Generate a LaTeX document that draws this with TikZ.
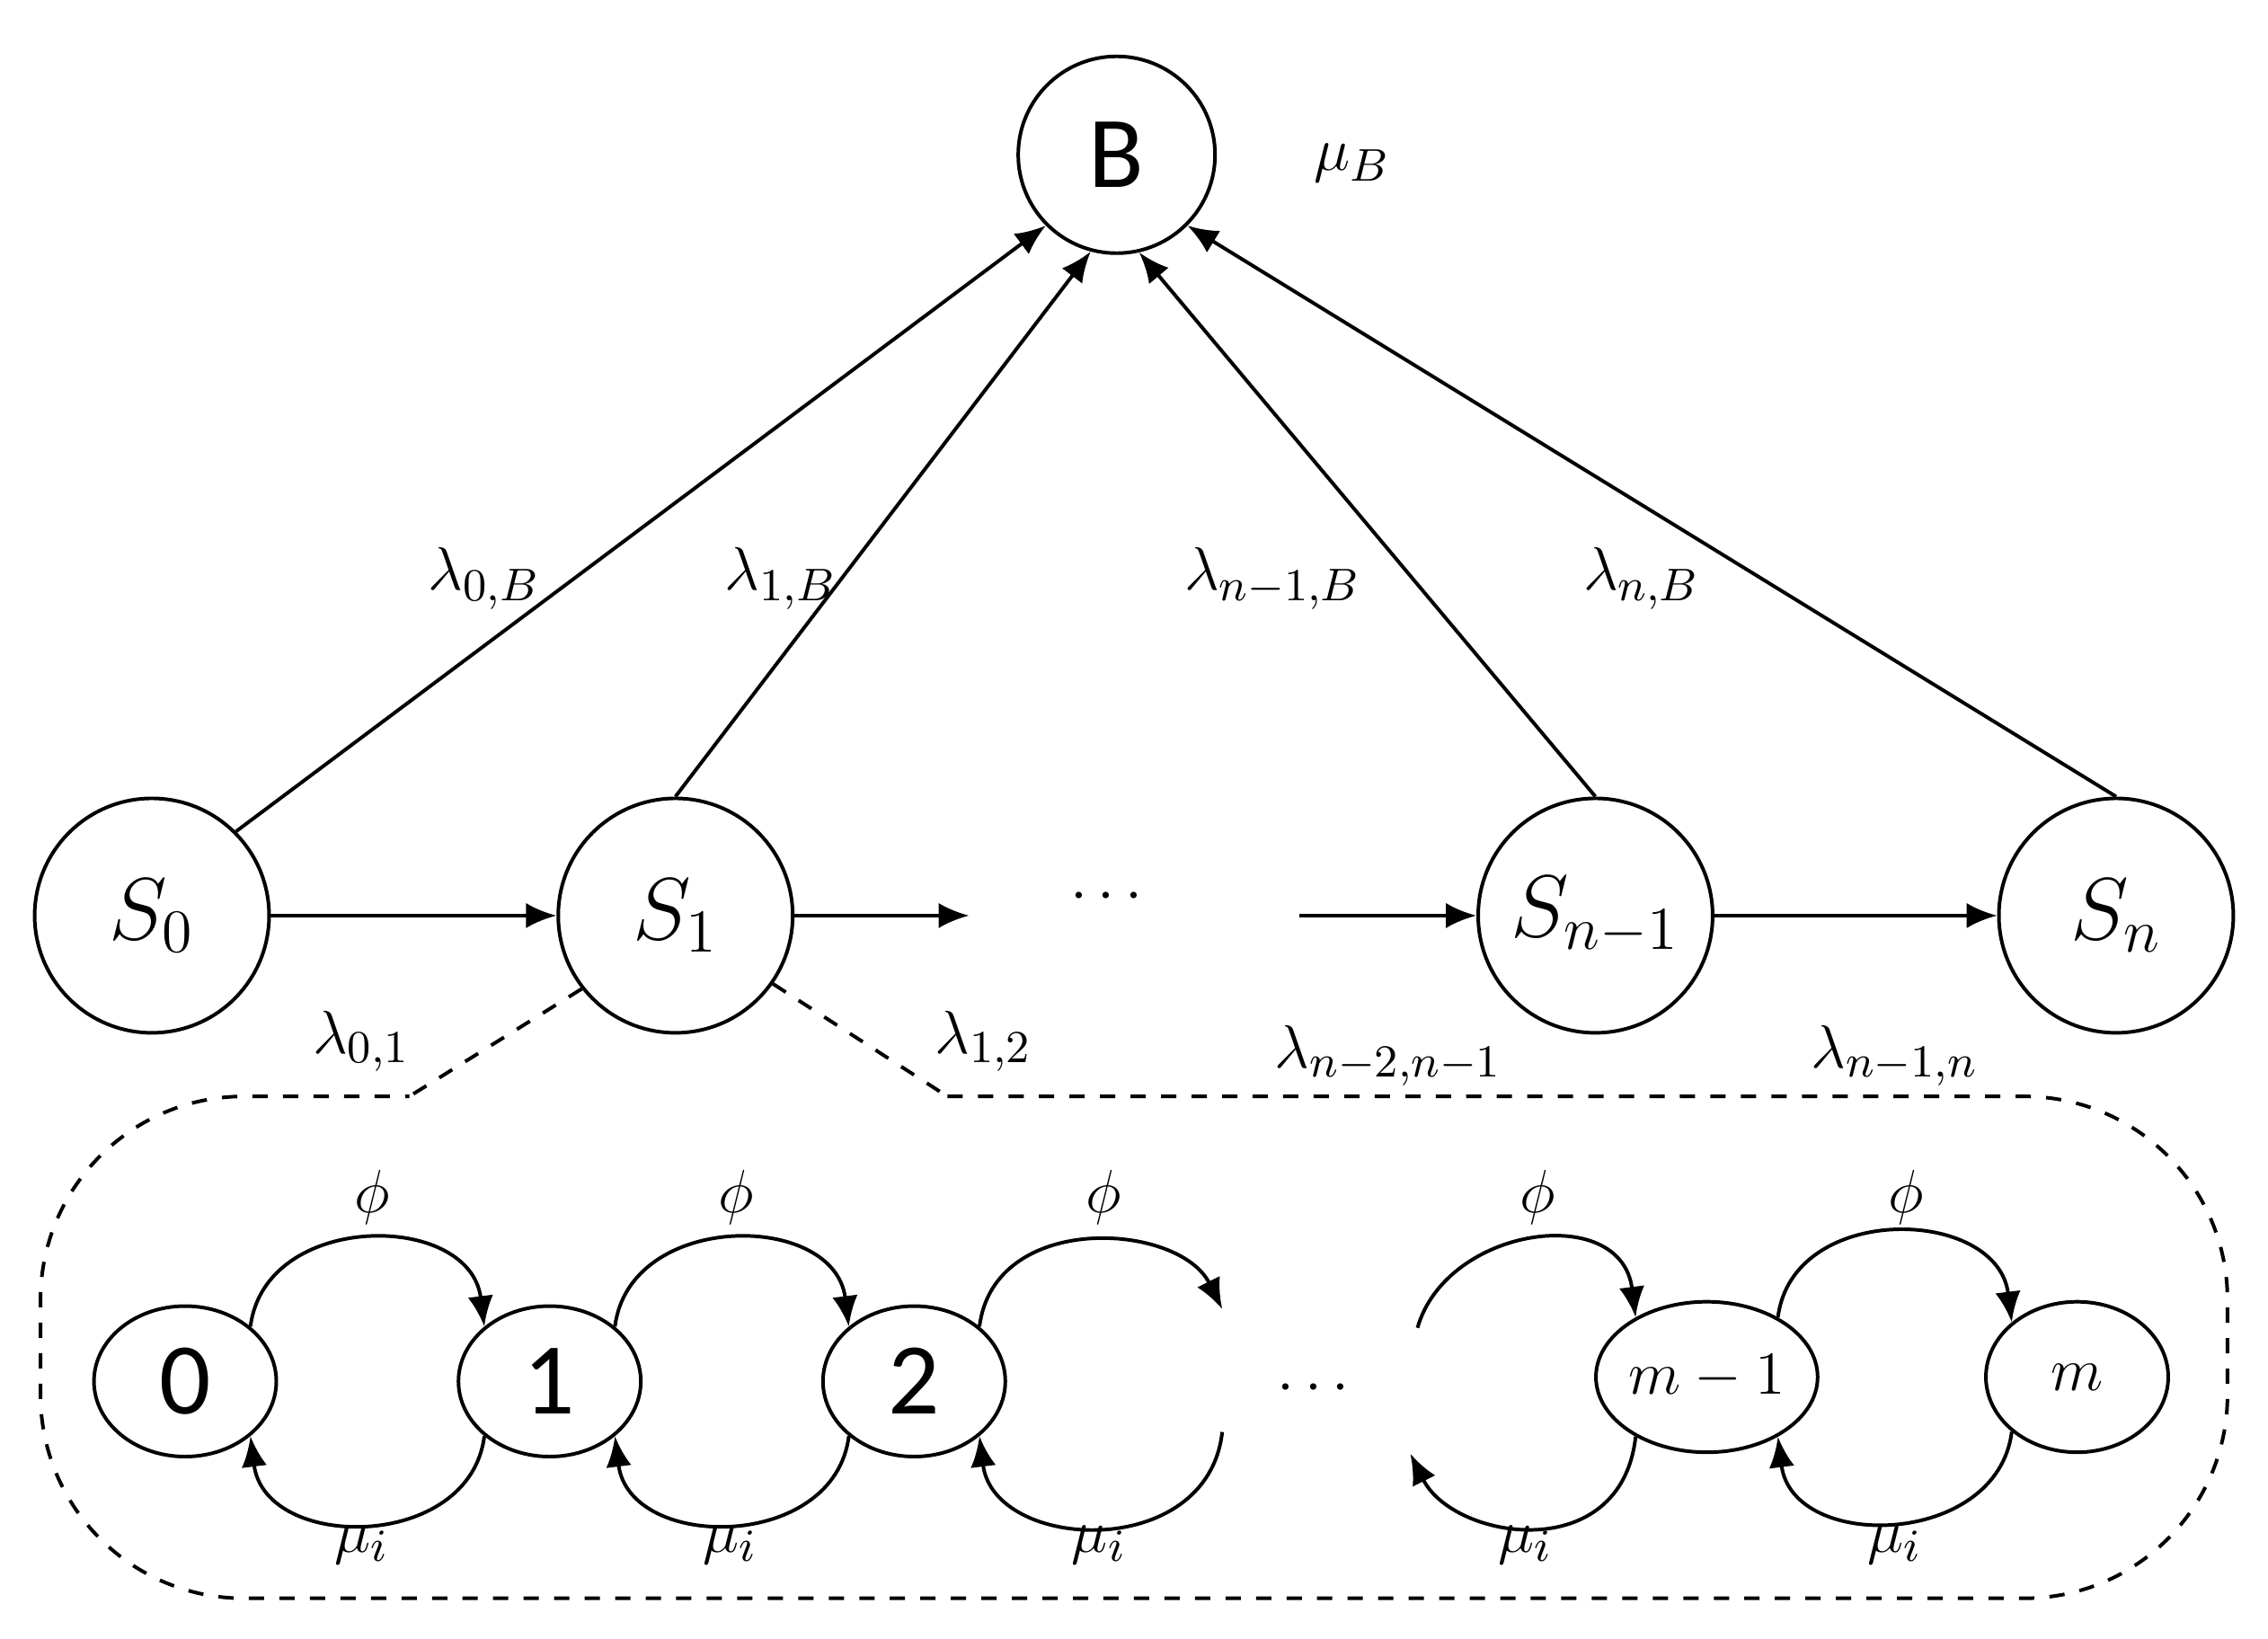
\documentclass[tikz,border=0pt]{standalone}
\usepackage{fontspec}
\newfontfamily\mycal{Carlito}
\usetikzlibrary{arrows.meta,shapes.geometric}
\begin{document}
\begin{tikzpicture}[x=0.01cm,y=-0.01cm,line width=0.7pt,
 ar/.style={-{Latex[length=6pt,width=5pt]}},
 st/.style={circle,draw,minimum size=1.62cm,inner sep=0pt,font=\fontsize{18}{20}\selectfont},
 el/.style={ellipse,draw,minimum width=1.26cm,minimum height=1.04cm,inner sep=0pt,font=\mycal\fontsize{20}{22}\selectfont},
 lb/.style={font=\fontsize{13}{15}\selectfont}]
\useasboundingbox (0,0) rectangle (1568,1133);
\node[circle,draw,minimum size=1.36cm,inner sep=0pt,font=\mycal\fontsize{20}{22}\selectfont] (B) at (772,107) {B};
\node[lb] at (935,113) {$\mu_B$};
\node[st] (s0) at (105,633) {$S_0$};
\node[st] (s1) at (467,633) {$S_1$};
\node[st] (sn1) at (1103,633) {$S_{n-1}$};
\node[st] (sn) at (1463,633) {$S_n$};
\node[lb] (d1) at (765,620) {$\cdots$};
\coordinate (a1) at (670,633); \coordinate (a2) at (898,633);
\draw[ar] (s0) -- (s1);
\draw[ar] (s1) -- (a1);
\draw[ar] (a2) -- (sn1);
\draw[ar] (sn1) -- (sn);
\draw[ar] (s0.45) -- (B.225);
\draw[ar] (s1.90) -- (B.255);
\draw[ar] (sn1.90) -- (B.283);
\draw[ar] (sn.90) -- (B.315);
\node[lb] at (335,400) {$\lambda_{0,B}$};
\node[lb] at (540,400) {$\lambda_{1,B}$};
\node[lb] at (880,400) {$\lambda_{n-1,B}$};
\node[lb] at (1135,400) {$\lambda_{n,B}$};
\node[lb] at (250,720) {$\lambda_{0,1}$};
\node[lb] at (680,720) {$\lambda_{1,2}$};
\node[lb] at (960,730) {$\lambda_{n-2,n-1}$};
\node[lb] at (1310,730) {$\lambda_{n-1,n}$};
\coordinate (c1) at (283,758); \coordinate (c2) at (655,758);
\draw[dashed] (s1.218) -- (c1);
\draw[dashed] (s1.325) -- (c2);
\draw[dashed,rounded corners=40] (c2) -- (1540,758) -- (1540,1105) -- (28,1105) -- (28,758) -- (c1);
\node[el] (e0) at (128,955) {0};
\node[el] (e1) at (380,955) {1};
\node[el] (e2) at (632,955) {2};
\node[el,font=\fontsize{13}{15}\selectfont] (em1) at (1180,952) {$m-1$};
\node[el,font=\fontsize{13}{15}\selectfont] (em) at (1436,952) {$m$};
\node[lb] (d2) at (908,960) {$\cdots$};
\coordinate (p1) at (845,905); \coordinate (p2) at (980,918);
\coordinate (q1) at (845,990); \coordinate (q2) at (975,1005);
\draw[ar] (e0.40) .. controls +(10,-80) and +(-10,-80) .. (e1.140);
\draw[ar] (e1.40) .. controls +(10,-80) and +(-10,-80) .. (e2.140);
\draw[ar] (e2.40) .. controls +(10,-80) and +(-30,-60) .. (p1);
\draw[ar] (p2) .. controls +(20,-70) and +(-10,-80) .. (em1.140);
\draw[ar] (em1.40) .. controls +(10,-80) and +(-10,-80) .. (em.140);
\draw[ar] (e1.220) .. controls +(-10,80) and +(10,80) .. (e0.320);
\draw[ar] (e2.220) .. controls +(-10,80) and +(10,80) .. (e1.320);
\draw[ar] (q1) .. controls +(-10,90) and +(10,80) .. (e2.320);
\draw[ar] (em1.220) .. controls +(-10,90) and +(30,60) .. (q2);
\draw[ar] (em.220) .. controls +(-10,80) and +(10,80) .. (em1.320);
\foreach \x in {257,509,763,1063,1318} \node[lb] at (\x,828) {$\phi$};
\foreach \x in {250,505,760,1055,1310} \node[lb] at (\x,1068) {$\mu_i$};
\end{tikzpicture}
\end{document}
